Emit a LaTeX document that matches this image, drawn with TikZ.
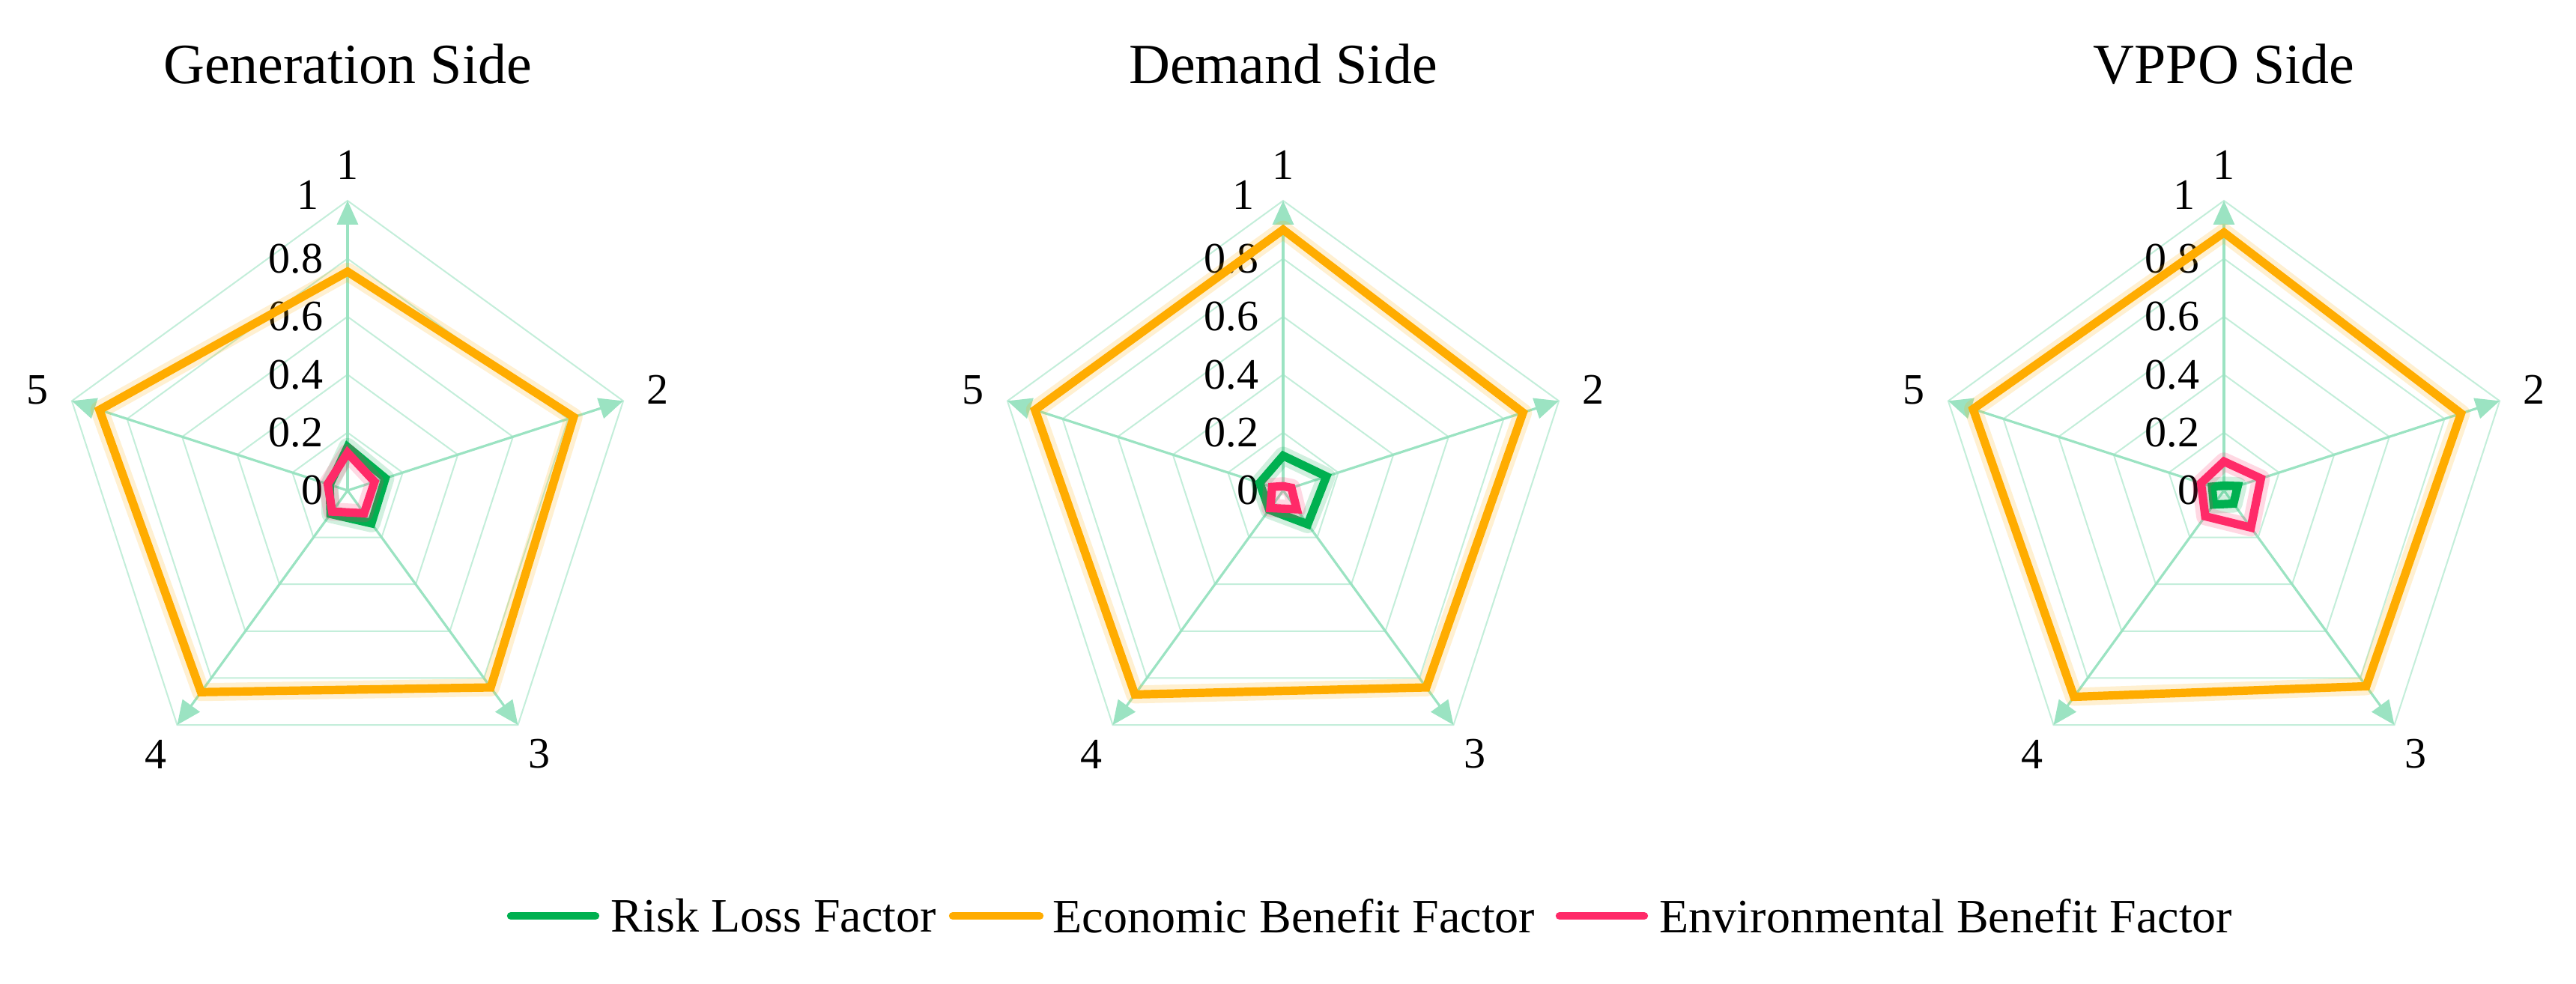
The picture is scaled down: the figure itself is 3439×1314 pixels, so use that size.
\documentclass[tikz,border=0pt]{standalone}
\usepackage{fontspec}
\setmainfont{Liberation Serif}
\usetikzlibrary{arrows.meta}
\definecolor{gridc}{HTML}{9BE3C2}
\definecolor{riskc}{HTML}{00B050}
\definecolor{econc}{HTML}{FFAC00}
\definecolor{envc}{HTML}{FF2A68}
\tikzset{
  ring/.style={draw=gridc!60, line width=0.5pt},
  axisline/.style={draw=gridc, line width=0.8pt, -{Triangle[length=8pt,width=7pt]}},
  ticklbl/.style={anchor=east, font=\fontsize{14.5}{15}\selectfont, inner sep=0pt},
  axlbl/.style={font=\fontsize{14.5}{15}\selectfont, inner sep=0pt},
  titlelbl/.style={font=\fontsize{19}{21}\selectfont, inner sep=0pt},
  series/.style={line width=2.8pt, line join=miter},
  glow/.style={line width=6pt, draw opacity=0.18, line join=round},
  legline/.style={line width=2.6pt, line cap=round},
  legtxt/.style={anchor=west, font=\fontsize{16}{18}\selectfont, inner sep=0pt}
}
\newcommand\radarchart[6]{%
  \coordinate (#1c) at (#2,655);
  \node[titlelbl] (#1title) at (#2,86) {#3};
  \foreach \r in {0.2,0.4,0.6,0.8,1.0}{
    \draw[ring] ({#2+387*\r*cos(90)},{655-387*\r*sin(90)})
      \foreach \k in {1,...,4}{ -- ({#2+387*\r*cos(90-72*\k)},{655-387*\r*sin(90-72*\k)}) } -- cycle;
  }
  \foreach \k in {1,...,5}{
    \coordinate (#1a\k) at ({#2+387*cos(90-72*(\k-1))},{655-387*sin(90-72*(\k-1))});
    \draw[axisline] (#1c) -- (#1a\k);
    \node[axlbl] (#1l\k) at ({#2+435*cos(90-72*(\k-1))},{655-435*sin(90-72*(\k-1))}) {\k};
  }
  \foreach \v/\t in {0/0,0.2/0.2,0.4/0.4,0.6/0.6,0.8/0.8}{
    \node[ticklbl] (#1t\t) at ({#2-32},{655-387*\v}) {\t};
  }
  \node[ticklbl] (#1tone) at ({#2-38},{655-395}) {1};
  \foreach \v [count=\k] in {#4}{
    \coordinate (#1e\k) at ({#2+387*\v*cos(90-72*(\k-1))},{655-387*\v*sin(90-72*(\k-1))});}
  \foreach \v [count=\k] in {#5}{
    \coordinate (#1g\k) at ({#2+387*\v*cos(90-72*(\k-1))},{655-387*\v*sin(90-72*(\k-1))});}
  \foreach \v [count=\k] in {#6}{
    \coordinate (#1p\k) at ({#2+387*\v*cos(90-72*(\k-1))},{655-387*\v*sin(90-72*(\k-1))});}
  \draw[glow, econc, yshift=-2pt] (#1e1)--(#1e2)--(#1e3)--(#1e4)--(#1e5)--cycle;
  \draw[series, econc] (#1e1)--(#1e2)--(#1e3)--(#1e4)--(#1e5)--cycle;
  \draw[glow, riskc, yshift=-2pt] (#1g1)--(#1g2)--(#1g3)--(#1g4)--(#1g5)--cycle;
  \draw[series, riskc] (#1g1)--(#1g2)--(#1g3)--(#1g4)--(#1g5)--cycle;
  \draw[glow, envc, yshift=-2pt] (#1p1)--(#1p2)--(#1p3)--(#1p4)--(#1p5)--cycle;
  \draw[series, envc] (#1p1)--(#1p2)--(#1p3)--(#1p4)--(#1p5)--cycle;
}
\begin{document}
\begin{tikzpicture}[x=0.25pt,y=-0.25pt]
\useasboundingbox[fill=white] (0,0) rectangle (3439,1314);
\radarchart{A}{464}{Generation Side}{0.755,0.82,0.84,0.86,0.90}{0.15,0.137,0.14,0.10,0.065}{0.13,0.098,0.097,0.09,0.072}
\radarchart{B}{1713}{Demand Side}{0.90,0.87,0.84,0.87,0.90}{0.12,0.157,0.144,0.082,0.085}{0.015,0.03,0.08,0.075,0.04}
\radarchart{C}{2969}{VPPO Side}{0.89,0.86,0.835,0.88,0.91}{0.017,0.05,0.056,0.06,0.043}{0.10,0.134,0.158,0.11,0.083}
\coordinate (g1) at (682,1223); \coordinate (g2) at (795,1223);
\draw[legline, riskc] (g1) -- (g2);
\node[legtxt] (gt) at (815,1223) {Risk Loss Factor};
\coordinate (o1) at (1272,1223); \coordinate (o2) at (1388,1223);
\draw[legline, econc] (o1) -- (o2);
\node[legtxt] (ot) at (1405,1223) {Economic Benefit Factor};
\coordinate (p1) at (2082,1223); \coordinate (p2) at (2195,1223);
\draw[legline, envc] (p1) -- (p2);
\node[legtxt] (pt) at (2215,1223) {Environmental Benefit Factor};
\end{tikzpicture}
\end{document}
